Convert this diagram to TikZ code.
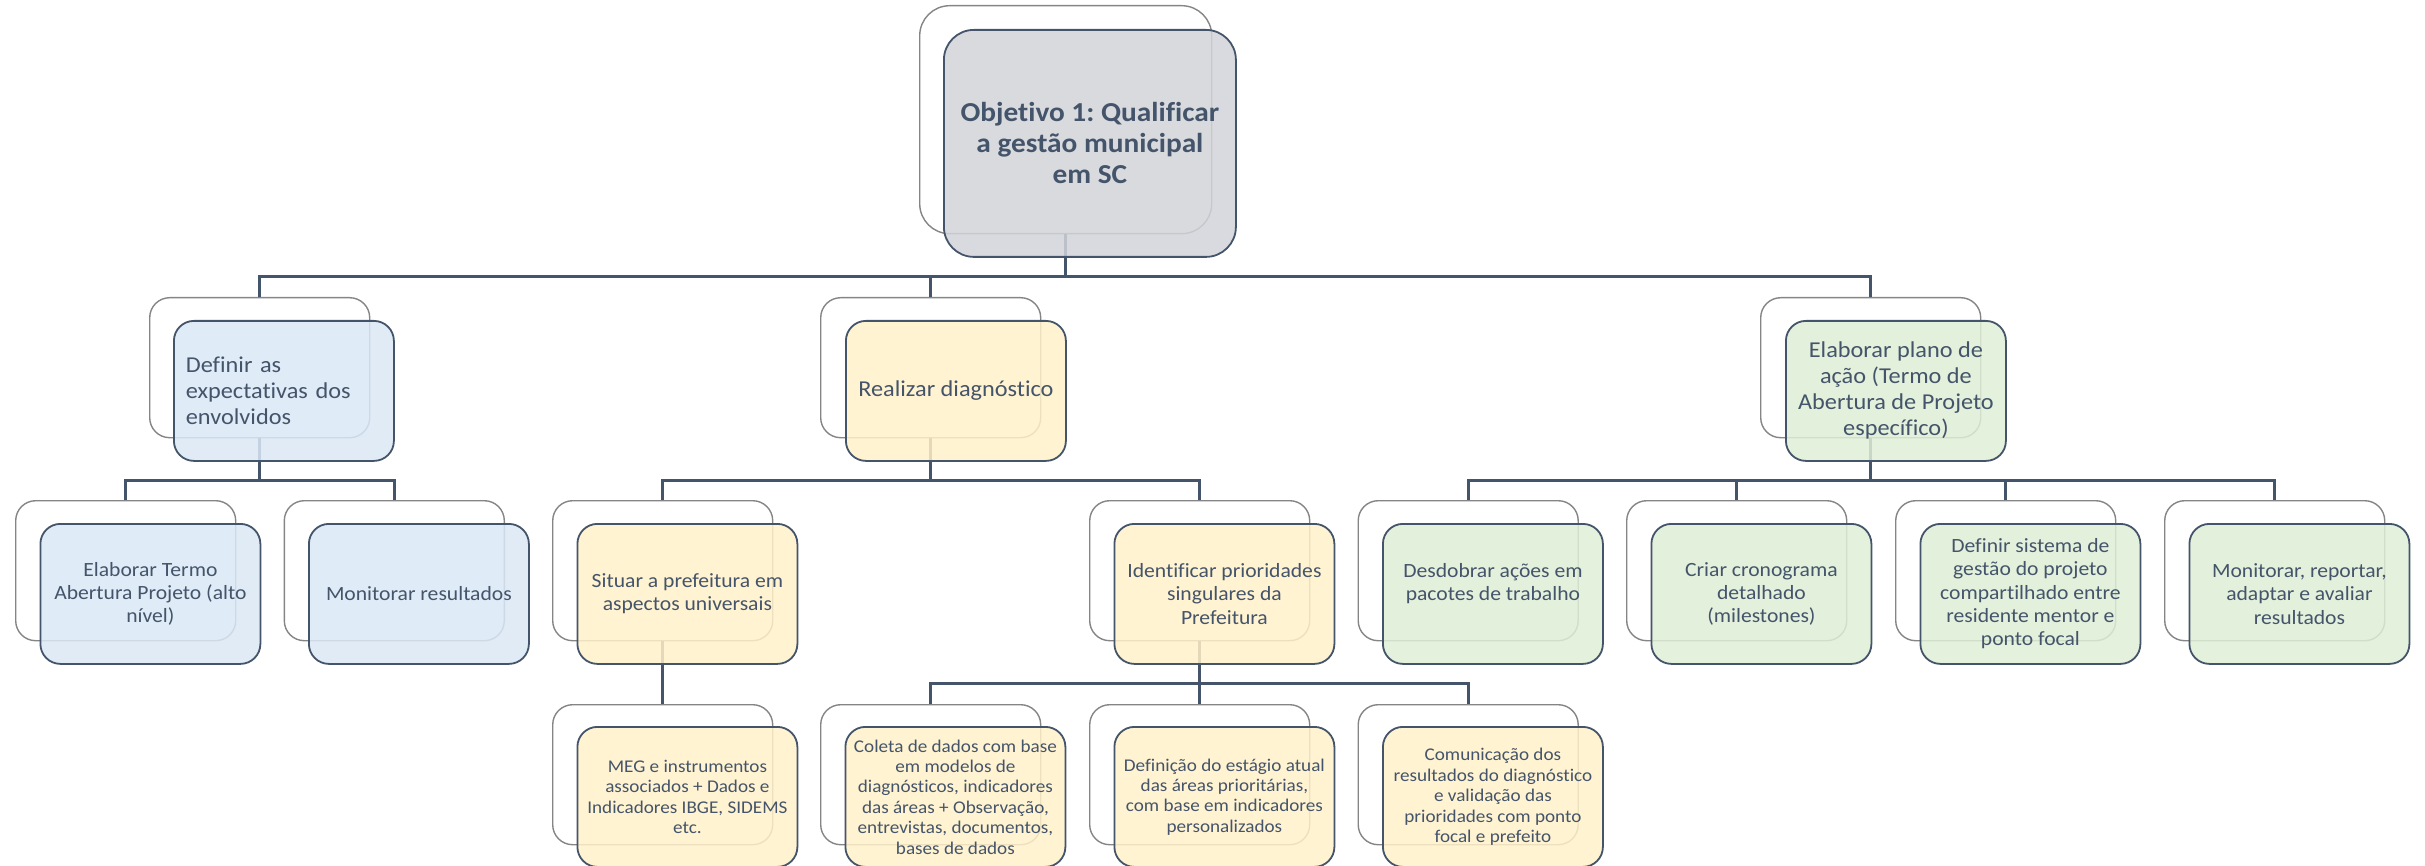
\documentclass[tikz,border=0pt]{standalone}
\usepackage{fontspec}
\setmainfont{Carlito}[FakeStretch=1.07, Ligatures=NoCommon]
\frenchspacing
\usetikzlibrary{calc}
\definecolor{navy}{HTML}{44546A}
\definecolor{grayfill}{HTML}{D2D4D9}
\definecolor{bluefill}{HTML}{DAE8F5}
\definecolor{yellowfill}{HTML}{FFF1C9}
\definecolor{greenfill}{HTML}{DFEED6}
\definecolor{backline}{HTML}{858585}
\tikzset{
 backbox/.style={draw=backline, line width=1.4pt, fill=white, rounded corners=20pt, minimum width=220pt, minimum height=140pt, inner sep=0pt, anchor=north west},
 frontbox/.style={draw=navy, line width=1.8pt, rounded corners=20pt, minimum width=220pt, minimum height=140pt, inner xsep=4pt, inner ysep=0pt, align=center, anchor=north west, fill opacity=0.85, text opacity=1, text=navy},
 conn/.style={draw=navy, line width=3pt},
 lone/.style={font=\fontsize{22.7}{26}\selectfont},
 ltwo/.style={font=\fontsize{20.2}{23.3}\selectfont},
 lthree/.style={font=\fontsize{17.9}{20.4}\selectfont},
}
\begin{document}
\begin{tikzpicture}[x=1pt,y=-1pt]
\useasboundingbox (0,0) rectangle (2425,866);
% back boxes
\node[backbox, minimum width=292pt, minimum height=228pt, rounded corners=30pt] (rootB) at (919,5) {};
\node[backbox] (defB) at (149,297) {};
\node[backbox] (reaB) at (820,297) {};
\node[backbox] (plaB) at (1760,297) {};
\node[backbox] (terB) at (15,500) {};
\node[backbox] (monB) at (283.6,500) {};
\node[backbox] (sitB) at (552,500) {};
\node[backbox] (ideB) at (1089,500) {};
\node[backbox] (desB) at (1357.5,500) {};
\node[backbox] (croB) at (1626,500) {};
\node[backbox] (sisB) at (1895,500) {};
\node[backbox] (avaB) at (2164,500) {};
\node[backbox] (megB) at (552,704) {};
\node[backbox] (colB) at (820,704) {};
\node[backbox] (estB) at (1089,704) {};
\node[backbox] (comB) at (1357.5,704) {};
% bus levels
\coordinate (bus1) at (0,276.5);
\coordinate (bus2) at (0,480);
\coordinate (bus3) at (0,683.5);
% connectors
\foreach \c in {defB,reaB,plaB} \draw[conn] (rootB.south) -- (rootB.south |- bus1) -| (\c.north);
\foreach \c in {terB,monB} \draw[conn] (defB.south) -- (defB.south |- bus2) -| (\c.north);
\foreach \c in {sitB,ideB} \draw[conn] (reaB.south) -- (reaB.south |- bus2) -| (\c.north);
\foreach \c in {desB,croB,sisB,avaB} \draw[conn] (plaB.south) -- (plaB.south |- bus2) -| (\c.north);
\draw[conn] (sitB.south) -- (megB.north);
\foreach \c in {colB,estB,comB} \draw[conn] (ideB.south) -- (ideB.south |- bus3) -| (\c.north);
% front boxes
\node[frontbox, fill=grayfill, minimum width=292pt, minimum height=227pt, rounded corners=30pt, font=\bfseries\fontsize{27.4}{31}\selectfont] (rootF) at (943,29) {Objetivo 1: Qualificar\\a gestão municipal\\em SC};
\node[frontbox, fill=bluefill, lone, text width=196pt, inner xsep=12pt, align=left] (defF) at (173,320) {Definir as\\expectativas dos\\envolvidos};
\node[frontbox, fill=yellowfill, lone] (reaF) at (845,320) {Realizar diagnóstico};
\node[frontbox, fill=greenfill, lone] (plaF) at (1785,320) {Elaborar plano de\\ação (Termo de\\Abertura de Projeto\\específico)};
\node[frontbox, fill=bluefill, ltwo] (terF) at (39.5,523) {Elaborar Termo\\Abertura Projeto (alto\\nível)};
\node[frontbox, fill=bluefill, ltwo] (monF) at (308,523) {Monitorar resultados};
\node[frontbox, fill=yellowfill, ltwo] (sitF) at (576.5,523) {Situar a prefeitura em\\aspectos universais};
\node[frontbox, fill=yellowfill, ltwo] (ideF) at (1113.5,523) {Identificar prioridades\\singulares da\\Prefeitura};
\node[frontbox, fill=greenfill, ltwo] (desF) at (1382,523) {Desdobrar ações em\\pacotes de trabalho\\\mbox{}};
\node[frontbox, fill=greenfill, ltwo] (croF) at (1650.5,523) {Criar cronograma\\detalhado\\(milestones)};
\node[frontbox, fill=greenfill, ltwo] (sisF) at (1919.5,523) {Definir sistema de\\gestão do projeto\\compartilhado entre\\residente mentor e\\ponto focal};
\node[frontbox, fill=greenfill, ltwo] (avaF) at (2188.5,523) {Monitorar, reportar,\\adaptar e avaliar\\resultados};
\node[frontbox, fill=yellowfill, lthree] (megF) at (576.5,726) {MEG e instrumentos\\associados + Dados e\\Indicadores IBGE, SIDEMS\\etc.};
\node[frontbox, fill=yellowfill, lthree] (colF) at (844.5,726) {Coleta de dados com base\\em modelos de\\diagnósticos, indicadores\\das áreas + Observação,\\entrevistas, documentos,\\bases de dados};
\node[frontbox, fill=yellowfill, lthree] (estF) at (1113.5,726) {Definição do estágio atual\\das áreas prioritárias,\\com base em indicadores\\personalizados};
\node[frontbox, fill=yellowfill, lthree] (comF) at (1382,726) {Comunicação dos\\resultados do diagnóstico\\e validação das\\prioridades com ponto\\focal e prefeito};
\end{tikzpicture}
\end{document}
